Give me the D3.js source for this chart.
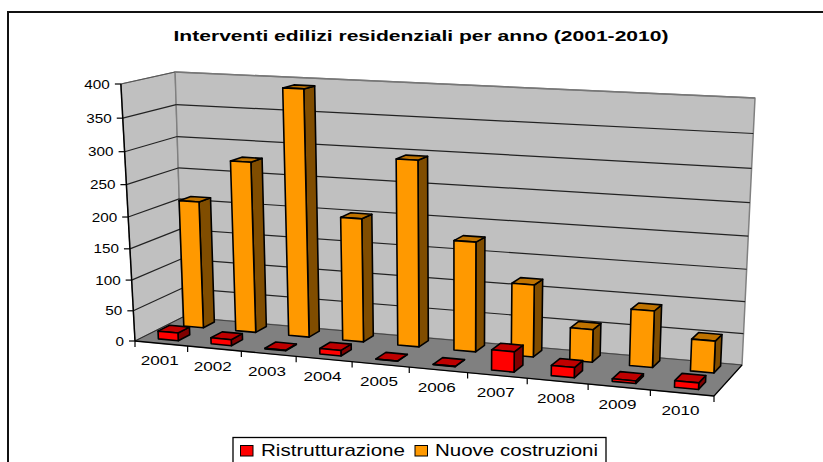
<!DOCTYPE html>
<html><head><meta charset="utf-8">
<script src="https://cdn.jsdelivr.net/npm/d3@7"></script>
<style>html,body{margin:0;background:#fff}svg{display:block}text{font-family:"Liberation Sans",Arial,sans-serif;fill:#000}</style>
</head><body><svg id="c" width="823" height="462"></svg>
<script>
const title = "Interventi edilizi residenziali per anno (2001-2010)";
const years = ["2001","2002","2003","2004","2005","2006","2007","2008","2009","2010"];
const ristrutturazione = [13,10,1,9,0.5,0.5,32,16,4,10];
const nuoveCostruzioni = [208,276,391,199,294,175,115,52,89,50];
const valueTicks = [0,50,100,150,200,250,300,350,400];
const seriesNames = ["Ristrutturazione","Nuove costruzioni"];
const colors = {red:["#ff0000","#bf0000","#800000"],orange:["#ff9900","#bf7300","#804d00"]};

// projective mapping of the chart box
const floorQuad = [[135,341],[183,317],[742,365],[714,396]]; // FL, BL, BR, FR
const topQuad   = [[121,84],[175,72],[755,98],[731,113]];
function homography(q){
  const [[x0,y0],[x1,y1],[x2,y2],[x3,y3]] = q; // (u,w): (0,0),(0,1),(1,1),(1,0)
  const dx1=x3-x2,dx2=x1-x2,sx=x0-x3+x2-x1,dy1=y3-y2,dy2=y1-y2,sy=y0-y3+y2-y1;
  const d=dx1*dy2-dx2*dy1,g=(sx*dy2-dx2*sy)/d,h=(dx1*sy-sx*dy1)/d;
  const a=x3-x0+g*x3,b=x1-x0+h*x1,e=y3-y0+g*y3,f=y1-y0+h*y1;
  return (u,w)=>{const k=g*u+h*w+1;return [(a*u+b*w+x0)/k,(e*u+f*w+y0)/k];};
}
const F=homography(floorQuad),T=homography(topQuad);
const warpP=1.069, warp=u=>u*warpP/(1+(warpP-1)*u);
const vanishX=456, leanFront=.0440, leanBackL=.029, leanBackR=.0455;
const P=(u0,w,t)=>{
  const u=warp(u0),a=F(u,w),b=T(u,w);
  const lean=(leanFront*(1-w)+(leanBackL*(1-u)+leanBackR*u)*w);
  return [a[0]+(a[0]-vanishX)*lean*t,a[1]+(b[1]-a[1])*t];
};

const vq=.932;
const vScale=d3.scaleLinear().domain([0,400]).range([0,1]);
const vFrac=v=>{const s=vScale(v);return s*vq/(1+(vq-1)*s);};
const xBand=d3.scaleBand().domain(years).range([0,1]).paddingInner(.62).paddingOuter(.31);
const xOuter=d3.scaleBand().domain(years).range([0,1]);
const depth=d3.scaleBand().domain(seriesNames).range([0,1.06]).paddingInner(.55).paddingOuter(.275);

const svg=d3.select("#c");
const poly=(pts,fill,stroke="#000",sw=1.6)=>svg.append("polygon").attr("points",pts.map(p=>p.join(",")).join(" "))
  .attr("fill",fill).attr("stroke",stroke).attr("stroke-width",sw).attr("stroke-linejoin","round");
const line=(a,b,stroke="#000",sw=1.2)=>svg.append("line").attr("x1",a[0]).attr("y1",a[1]).attr("x2",b[0]).attr("y2",b[1]).attr("stroke",stroke).attr("stroke-width",sw);
const label=(s,x,y,size,len,anchor="middle",weight="normal")=>svg.append("text").attr("x",x).attr("y",y).attr("text-anchor",anchor).attr("font-size",size).attr("font-weight",weight).attr("textLength",len).attr("lengthAdjust","spacingAndGlyphs").text(s);

// chart frame
svg.append("path").attr("d","M8,462V12H823").attr("fill","none").attr("stroke","#111").attr("stroke-width",2);
label(title,421,41,15.5,495,"middle","bold");

// walls and floor
poly([P(0,0,0),P(0,1,0),P(0,1,1),P(0,0,1)],"#c0c0c0","#808080",1.2);
poly([P(0,1,0),P(1,1,0),P(1,1,1),P(0,1,1)],"#c0c0c0","#808080",1.5);
poly([P(0,0,0),P(1,0,0),P(1,1,0),P(0,1,0)],"#808080","#808080",1);

// gridlines
valueTicks.filter(v=>v>0&&v<400).forEach(v=>{
  const t=vFrac(v);
  line(P(0,0,t),P(0,1,t),"#222");
  line(P(0,1,t),P(1,1,t),"#222");
});
line(P(0,0,1),P(0,1,1),"#555");
line(P(0,1,1),P(1,1,1),"#777",1.4);
line(P(0,0,0),P(0,1,0),"#222",1);
line(P(0,1,0),P(1,1,0),"#444",1);
line(P(1,1,0),P(1,0,0),"#000",1.2);

// axes
line(P(0,0,0),P(0,0,1),"#000",1.5);
line(P(0,0,0),P(1,0,0),"#000",1.3);
valueTicks.forEach(v=>{
  const p=P(0,0,vFrac(v));
  line([p[0]-6,p[1]],p,"#000",1.2);
  label(String(v),p[0]-11,p[1]+4.5,13,String(v).length*8.5,"end");
});
years.forEach(y=>{
  const a=P(xOuter(y),0,0);
  line(a,[a[0],a[1]+6],"#000",1.2);
  const m=P(xOuter(y)+xOuter.bandwidth()/2,0,0);
  label(y,m[0]-1.5,m[1]+22,13,38);
});
{const a=P(1,0,0);line(a,[a[0],a[1]+6],"#000",1.2);}

// bars
function bar(year,series,v,c){
  const u0=xBand(year),u1=u0+xBand.bandwidth(),w0=depth(series),w1=w0+depth.bandwidth(),t=vFrac(v);
  poly([P(u1,w0,0),P(u1,w1,0),P(u1,w1,t),P(u1,w0,t)],c[2]);
  poly([P(u0,w0,t),P(u1,w0,t),P(u1,w1,t),P(u0,w1,t)],c[1]);
  poly([P(u0,w0,0),P(u1,w0,0),P(u1,w0,t),P(u0,w0,t)],c[0]);
}
years.forEach((y,i)=>{
  bar(y,seriesNames[1],nuoveCostruzioni[i],colors.orange);
  bar(y,seriesNames[0],ristrutturazione[i],colors.red);
});

// legend
svg.append("rect").attr("x",233).attr("y",437.5).attr("width",373).attr("height",30).attr("fill","#fff").attr("stroke","#000").attr("stroke-width",1.3);
svg.append("rect").attr("x",240.5).attr("y",445.5).attr("width",12.5).attr("height",10.5).attr("fill",colors.red[0]).attr("stroke","#000");
label(seriesNames[0],261,456,17,144,"start");
svg.append("rect").attr("x",415).attr("y",445.5).attr("width",12.5).attr("height",10.5).attr("fill",colors.orange[0]).attr("stroke","#000");
label(seriesNames[1],435,456,17,163,"start");
</script></body></html>
